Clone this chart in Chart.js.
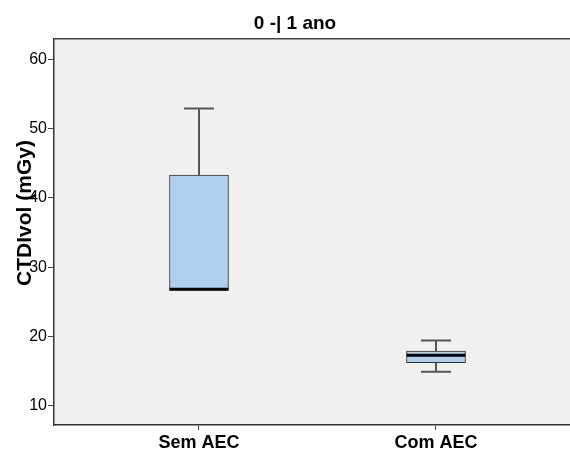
<!DOCTYPE html>
<html>
<head>
<meta charset="utf-8">
<script src="https://cdn.jsdelivr.net/npm/chart.js@4.4.0/dist/chart.umd.min.js"></script>
<style>
  html, body { margin: 0; padding: 0; background: #fff; overflow: hidden; }
  #wrap { width: 590px; height: 450px; }
</style>
</head>
<body>
<div id="wrap"><canvas id="myChart"></canvas></div>
<script>
// box plot values
var categories = ['Sem AEC', 'Com AEC'];
var whiskerLow  = [26.7, 14.9];
var q1          = [26.7, 16.2];
var median      = [26.8, 17.3];
var q3          = [43.3, 17.9];
var whiskerHigh = [52.9, 19.4];
var yTicks = [10, 20, 30, 40, 50, 60];

var boxHalf = 0.124;   // half box width, in x units
var capHalf = 0.063;   // half whisker cap width

var boxData = [];
var whiskerData = [];
var medianData = [];
for (var i = 0; i < categories.length; i++) {
  var x = i + 1;
  boxData.push({x: x, y: [q1[i], q3[i]]});
  // upper whisker + cap
  whiskerData.push({x: x, y: q3[i]}, {x: x, y: whiskerHigh[i]}, {x: x, y: null});
  whiskerData.push({x: x - capHalf, y: whiskerHigh[i]}, {x: x + capHalf, y: whiskerHigh[i]}, {x: x, y: null});
  // lower whisker + cap
  if (whiskerLow[i] < q1[i]) {
    whiskerData.push({x: x, y: q1[i]}, {x: x, y: whiskerLow[i]}, {x: x, y: null});
    whiskerData.push({x: x - capHalf, y: whiskerLow[i]}, {x: x + capHalf, y: whiskerLow[i]}, {x: x, y: null});
  }
  medianData.push({x: x - boxHalf, y: median[i]}, {x: x + boxHalf, y: median[i]}, {x: x, y: null});
}

var plotFrame = {
  id: 'plotFrame',
  beforeDraw: function(chart) {
    var a = chart.chartArea, ctx = chart.ctx;
    ctx.save();
    ctx.fillStyle = '#f0f0f0';
    ctx.fillRect(a.left, a.top, a.right - a.left, a.bottom - a.top);
    ctx.restore();
  },
  afterDraw: function(chart) {
    var a = chart.chartArea, ctx = chart.ctx;
    ctx.save();
    ctx.strokeStyle = '#444';
    ctx.lineWidth = 1.5;
    ctx.beginPath();
    ctx.moveTo(a.left, a.top);
    ctx.lineTo(a.right, a.top);
    ctx.stroke();
    // y axis title
    ctx.translate(25, 213);
    ctx.rotate(-Math.PI / 2);
    ctx.font = 'bold 21px "Liberation Sans", Arial, sans-serif';
    ctx.fillStyle = '#000';
    ctx.textAlign = 'center';
    ctx.textBaseline = 'middle';
    ctx.fillText('CTDIvol (mGy)', 0, 0);
    ctx.restore();
  }
};

var ctx = document.getElementById('myChart').getContext('2d');
var myChart = new Chart(ctx, {
  type: 'bar',
  data: {
    datasets: [{
      type: 'line',
      data: medianData,
      borderColor: '#000',
      borderWidth: 3,
      pointRadius: 0,
      spanGaps: false,
      order: 1
    },
    {
      type: 'line',
      data: whiskerData,
      borderColor: '#555',
      borderWidth: 2,
      pointRadius: 0,
      spanGaps: false,
      order: 2
    },
    {
      type: 'bar',
      data: boxData,
      backgroundColor: '#aecfee',
      borderColor: '#333',
      borderWidth: 1,
      borderSkipped: false,
      barThickness: 59,
      order: 3
    }]
  },
  options: {
    responsive: true,
    maintainAspectRatio: false,
    animation: false,
    layout: { padding: 0 },
    plugins: {
      legend: { display: false },
      tooltip: { enabled: false },
      title: {
        display: true,
        text: '0 -| 1 ano',
        color: '#000',
        font: { family: '"Liberation Sans", Arial, sans-serif', size: 19, weight: 'bold' },
        padding: { top: 12, bottom: 4 }
      }
    },
    scales: {
      x: {
        type: 'linear',
        min: 0.3882,
        max: 2.6498,
        offset: false,
        afterBuildTicks: function(scale) {
          scale.ticks = categories.map(function(c, i) { return {value: i + 1}; });
        },
        afterFit: function(scale) { scale.height = 25; },
        ticks: {
          color: '#000',
          padding: 2,
          maxRotation: 0,
          autoSkip: false,
          font: { family: '"Liberation Sans", Arial, sans-serif', size: 18, weight: 'bold' },
          callback: function(v) { return categories[v - 1]; }
        },
        grid: { offset: false, drawOnChartArea: false, drawTicks: true, tickLength: 5, color: '#444' },
        border: { color: '#333', width: 1.5 }
      },
      y: {
        min: 7.22,
        max: 62.97,
        afterBuildTicks: function(scale) {
          scale.ticks = yTicks.map(function(v) { return {value: v}; });
        },
        afterFit: function(scale) { scale.width = 54; },
        ticks: {
          color: '#000',
          padding: 1,
          font: { family: '"Liberation Sans", Arial, sans-serif', size: 16 }
        },
        grid: { drawOnChartArea: false, drawTicks: true, tickLength: 6, color: '#444' },
        border: { color: '#333', width: 1.5 }
      }
    }
  },
  plugins: [plotFrame]
});
</script>
</body>
</html>
